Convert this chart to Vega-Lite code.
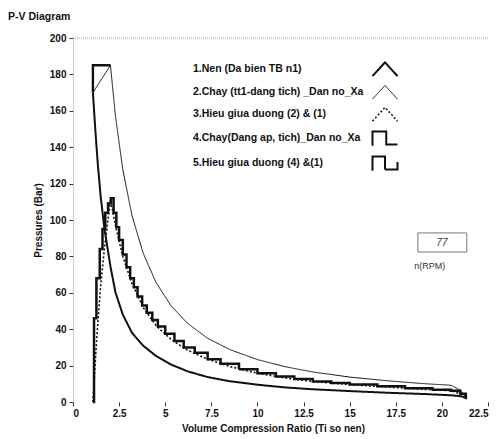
{
 "$schema": "https://vega.github.io/schema/vega-lite/v6.json",
 "width": 415, "height": 364,
 "autosize": "none",
 "padding": {"left": 73, "top": 38, "right": 10, "bottom": 37},
 "title": {"text": "P-V Diagram", "anchor": "start", "frame": "group", "dx": -65, "offset": 11, "fontSize": 10.5, "fontWeight": "bold", "color": "#111"},
 "datasets": {"curves": [
  {"s":"1","i":0,"x":1.08,"p":170},{"s":"1","i":1,"x":1.2,"p":151},{"s":"1","i":2,"x":1.35,"p":130},{"s":"1","i":3,"x":1.5,"p":113},{"s":"1","i":4,"x":1.7,"p":95.5},{"s":"1","i":5,"x":2.03,"p":74.5},{"s":"1","i":6,"x":2.3,"p":60.3},{"s":"1","i":7,"x":2.7,"p":48},{"s":"1","i":8,"x":3.2,"p":38},{"s":"1","i":9,"x":3.8,"p":31},{"s":"1","i":10,"x":4.5,"p":25.3},{"s":"1","i":11,"x":5.3,"p":20.6},{"s":"1","i":12,"x":6.2,"p":16.9},{"s":"1","i":13,"x":7.3,"p":13.7},{"s":"1","i":14,"x":8.5,"p":11.4},{"s":"1","i":15,"x":10,"p":9.5},{"s":"1","i":16,"x":11.5,"p":8.0},{"s":"1","i":17,"x":13,"p":7.0},{"s":"1","i":18,"x":15,"p":6.0},{"s":"1","i":19,"x":17,"p":5.1},{"s":"1","i":20,"x":19,"p":4.4},{"s":"1","i":21,"x":20.5,"p":3.7},{"s":"1","i":22,"x":21.0,"p":3.2},{"s":"1","i":23,"x":21.3,"p":2.5},
  {"s":"2","i":0,"x":1.08,"p":170},{"s":"2","i":1,"x":2.03,"p":185},{"s":"2","i":2,"x":2.3,"p":157.3},{"s":"2","i":3,"x":2.7,"p":127.7},{"s":"2","i":4,"x":3.2,"p":102.4},{"s":"2","i":5,"x":3.8,"p":81.9},{"s":"2","i":6,"x":4.5,"p":65.7},{"s":"2","i":7,"x":5.3,"p":53.1},{"s":"2","i":8,"x":6.2,"p":43.3},{"s":"2","i":9,"x":7.3,"p":35.0},{"s":"2","i":10,"x":8.5,"p":28.8},{"s":"2","i":11,"x":10,"p":23.3},{"s":"2","i":12,"x":11.5,"p":19.4},{"s":"2","i":13,"x":13,"p":16.5},{"s":"2","i":14,"x":15,"p":13.7},{"s":"2","i":15,"x":17,"p":11.7},{"s":"2","i":16,"x":19,"p":10.1},{"s":"2","i":17,"x":20.5,"p":9.2},{"s":"2","i":18,"x":21.0,"p":6.5},{"s":"2","i":19,"x":21.3,"p":2.6},
  {"s":"3","i":0,"x":1.08,"p":0},{"s":"3","i":1,"x":1.2,"p":21},{"s":"3","i":2,"x":1.35,"p":44},{"s":"3","i":3,"x":1.5,"p":64},{"s":"3","i":4,"x":1.7,"p":84},{"s":"3","i":5,"x":2.03,"p":111},{"s":"3","i":6,"x":2.3,"p":97},{"s":"3","i":7,"x":2.7,"p":80},{"s":"3","i":8,"x":3.2,"p":65},{"s":"3","i":9,"x":3.8,"p":52},{"s":"3","i":10,"x":4.5,"p":42},{"s":"3","i":11,"x":5.3,"p":34.5},{"s":"3","i":12,"x":6.2,"p":28.5},{"s":"3","i":13,"x":7.3,"p":23.5},{"s":"3","i":14,"x":8.5,"p":19.5},{"s":"3","i":15,"x":10,"p":15.8},{"s":"3","i":16,"x":11.5,"p":13.2},{"s":"3","i":17,"x":13,"p":11.3},{"s":"3","i":18,"x":15,"p":9.6},{"s":"3","i":19,"x":17,"p":8.2},{"s":"3","i":20,"x":19,"p":7.0},{"s":"3","i":21,"x":20.5,"p":6.2},{"s":"3","i":22,"x":21.0,"p":4.5},{"s":"3","i":23,"x":21.3,"p":1.5},
  {"s":"4","i":0,"x":1.08,"p":170},{"s":"4","i":1,"x":1.08,"p":185},{"s":"4","i":2,"x":2.03,"p":185},
  {"s":"5","i":0,"x":1.08,"p":0},{"s":"5","i":1,"x":1.14,"p":46},{"s":"5","i":2,"x":1.27,"p":68},{"s":"5","i":3,"x":1.45,"p":84},{"s":"5","i":4,"x":1.6,"p":95},{"s":"5","i":5,"x":1.75,"p":104},{"s":"5","i":6,"x":1.9,"p":109},{"s":"5","i":7,"x":2.05,"p":112},{"s":"5","i":8,"x":2.2,"p":104},{"s":"5","i":9,"x":2.35,"p":96},{"s":"5","i":10,"x":2.5,"p":89},{"s":"5","i":11,"x":2.7,"p":81},{"s":"5","i":12,"x":2.9,"p":74},{"s":"5","i":13,"x":3.1,"p":68},{"s":"5","i":14,"x":3.3,"p":63},{"s":"5","i":15,"x":3.5,"p":58},{"s":"5","i":16,"x":3.75,"p":53},{"s":"5","i":17,"x":4.0,"p":49},{"s":"5","i":18,"x":4.3,"p":45},{"s":"5","i":19,"x":4.6,"p":41.5},{"s":"5","i":20,"x":5.0,"p":37.5},{"s":"5","i":21,"x":5.5,"p":33.5},{"s":"5","i":22,"x":6.0,"p":30},{"s":"5","i":23,"x":6.6,"p":27},{"s":"5","i":24,"x":7.3,"p":23.5},{"s":"5","i":25,"x":8.0,"p":21},{"s":"5","i":26,"x":9.0,"p":18},{"s":"5","i":27,"x":10,"p":15.8},{"s":"5","i":28,"x":11,"p":14},{"s":"5","i":29,"x":12,"p":12.6},{"s":"5","i":30,"x":13,"p":11.3},{"s":"5","i":31,"x":14,"p":10.4},{"s":"5","i":32,"x":15,"p":9.6},{"s":"5","i":33,"x":16.5,"p":8.6},{"s":"5","i":34,"x":18,"p":7.6},{"s":"5","i":35,"x":19.5,"p":6.7},{"s":"5","i":36,"x":20.5,"p":6.2},{"s":"5","i":37,"x":21.0,"p":4.5},{"s":"5","i":38,"x":21.3,"p":1.5}
 ]},
 "data": {"name": "curves"},
 "layer": [
  {
   "data": {"values": [{"v": "top"}]},
   "mark": {"type": "rule", "color": "#9a9a9a", "strokeDash": [1, 1], "strokeWidth": 1},
   "encoding": {"y": {"datum": 200}}
  },
  {
   "transform": [{"filter": "datum.s != '5'"}],
   "mark": {"type": "line", "color": "#111", "interpolate": "linear"},
   "encoding": {
    "x": {"field": "x", "type": "quantitative", "title": "Volume Compression Ratio (Ti so nen)", "scale": {"domain": [0, 22.5], "nice": false, "zero": false},
          "axis": {"values": [0,2.5,5,7.5,10,12.5,15,17.5,20,22.5], "format": ".1~f", "domain": false, "labelPadding": 2, "titlePadding": 5, "titleX": 200}},
    "y": {"field": "p", "type": "quantitative", "title": "Pressures (Bar)", "scale": {"domain": [0, 200], "nice": false},
          "axis": {"values": [0,20,40,60,80,100,120,140,160,180,200], "tickCount": 11, "labelOverlap": false, "labelPadding": 3, "titlePadding": 6}},
    "order": {"field": "i", "type": "quantitative"},
    "strokeDash": {"field": "s", "type": "nominal", "scale": {"domain": ["1","2","3","4","5"], "range": [[1,0],[1,0],[2,2],[1,0],[1,0]]},
      "legend": {
       "orient": "none", "legendX": 120, "legendY": 26, "title": null, "padding": 0,
       "symbolSize": 625, "symbolStrokeColor": "#111", "symbolFillColor": "transparent",
       "labelFontSize": 10.5, "labelFontWeight": "bold", "labelColor": "#111", "labelLimit": 300, "rowPadding": 2,
       "labelExpr": "['1.Nen (Da bien TB n1)', '2.Chay (tt1-dang tich) _Dan no_Xa', '3.Hieu giua duong (2) & (1)', '4.Chay(Dang ap, tich)_Dan no_Xa', '5.Hieu giua duong (4) &(1)'][toNumber(datum.value) - 1]",
       "encode": {
        "symbols": {"update": {"x": {"value": 192},
          "strokeWidth": {"signal": "datum.value == '2' ? 1 : datum.value == '3' ? 1.5 : 2"},
          "shape": {"signal": "datum.value == '4' ? 'M-1,0.6L-1,-0.55L0.1,-0.55L0.1,0.5L1,0.5' : datum.value == '5' ? 'M-1,0.6L-1,-0.55L0,-0.55L0,0.5L1,0.5L1,-0.1' : 'M-1,0.55L0,-0.55L1,0.55'"}}},
        "labels": {"update": {"x": {"value": 0}}}
       }
      }},
    "strokeWidth": {"field": "s", "type": "nominal", "legend": null, "scale": {"type": "ordinal", "domain": ["1","2","3","4","5"], "range": [2, 1, 1.6, 2.4, 2]}}
   }
  },
  {
   "transform": [{"filter": "datum.s == '5'"}],
   "mark": {"type": "line", "color": "#111", "interpolate": "step-after"},
   "encoding": {
    "x": {"field": "x", "type": "quantitative", "title": "Volume Compression Ratio (Ti so nen)"},
    "y": {"field": "p", "type": "quantitative", "title": "Pressures (Bar)"},
    "order": {"field": "i", "type": "quantitative"},
    "strokeDash": {"field": "s", "type": "nominal"},
    "strokeWidth": {"field": "s", "type": "nominal", "legend": null}
   }
  },
  {
   "data": {"values": [{"v": "77"}]},
   "mark": {"type": "rect", "fill": "white", "stroke": "#777", "strokeWidth": 1},
   "encoding": {"x": {"datum": 18.7}, "x2": {"datum": 21.35}, "y": {"datum": 82.4}, "y2": {"datum": 92.9}}
  },
  {
   "data": {"values": [{"v": "77"}]},
   "mark": {"type": "text", "fontSize": 10, "fontStyle": "italic", "color": "#333"},
   "encoding": {"x": {"datum": 20.0}, "y": {"datum": 87.6}, "text": {"field": "v"}}
  },
  {
   "data": {"values": [{"v": "n(RPM)"}]},
   "mark": {"type": "text", "fontSize": 9, "align": "left", "color": "#333"},
   "encoding": {"x": {"datum": 18.5}, "y": {"datum": 75}, "text": {"field": "v"}}
  }
 ],
 "config": {
  "font": "Liberation Sans",
  "view": {"stroke": null},
  "axis": {"grid": false, "labelFontSize": 10, "labelFontWeight": "bold", "labelColor": "#111", "titleFontSize": 10, "titleFontWeight": "bold", "titleColor": "#111", "tickColor": "#333", "tickSize": 4, "domainColor": "#9a9a9a", "domainDash": [1, 1]}
 }
}
